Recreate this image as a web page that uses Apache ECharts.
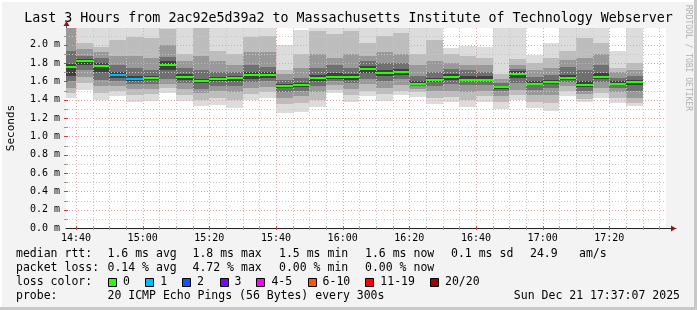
<!DOCTYPE html>
<html><head><meta charset="utf-8">
<script src="https://cdn.jsdelivr.net/npm/echarts@6/dist/echarts.min.js"></script>
<style>html,body{margin:0;padding:0;background:#f3f3f3}#c{width:697px;height:310px}</style>
</head><body><div id="c"></div>
<script>
// ---------------- data ----------------
const times = ['14:40','14:45','14:50','14:55','15:00','15:05','15:10','15:15','15:20','15:25','15:30','15:35','15:40','15:45','15:50','15:55','16:00','16:05','16:10','16:15','16:20','16:25','16:30','16:35','16:40','16:45','16:50','16:55','17:00','17:05','17:10','17:15','17:20','17:25','17:30'];
const median = [1.752,1.818,1.763,1.665,1.625,1.636,1.778,1.645,1.600,1.622,1.632,1.665,1.665,1.545,1.556,1.632,1.651,1.643,1.730,1.687,1.698,1.568,1.611,1.643,1.620,1.620,1.534,1.678,1.576,1.589,1.632,1.556,1.645,1.576,1.590];
const loss = [0,0,0,1,1,0,0,0,0,0,0,0,0,0,0,0,0,0,0,0,0,0,0,0,0,0,0,0,0,0,0,0,0,0,0];
// sorted ping ranks (of 20) per step, seconds x 1e-3
const p1  = [1.42,1.51,1.40,1.44,1.38,1.39,1.47,1.39,1.33,1.34,1.31,1.40,1.42,1.26,1.27,1.32,1.47,1.38,1.44,1.39,1.45,1.43,1.35,1.37,1.32,1.38,1.30,1.40,1.31,1.28,1.44,1.37,1.42,1.36,1.33];
const p3  = [1.47,1.58,1.47,1.50,1.45,1.46,1.53,1.45,1.40,1.42,1.40,1.46,1.48,1.35,1.36,1.40,1.51,1.45,1.50,1.46,1.50,1.48,1.42,1.43,1.40,1.44,1.38,1.45,1.38,1.36,1.50,1.41,1.47,1.42,1.36];
const p5  = [1.53,1.65,1.55,1.55,1.52,1.52,1.57,1.52,1.47,1.49,1.48,1.53,1.54,1.42,1.44,1.48,1.56,1.52,1.57,1.53,1.56,1.52,1.50,1.50,1.48,1.50,1.44,1.51,1.45,1.45,1.55,1.46,1.53,1.48,1.42];
const p7  = [1.60,1.72,1.62,1.60,1.57,1.57,1.63,1.58,1.52,1.55,1.55,1.59,1.60,1.48,1.50,1.55,1.60,1.58,1.63,1.60,1.63,1.55,1.55,1.57,1.56,1.56,1.49,1.58,1.51,1.53,1.59,1.50,1.59,1.53,1.50];
const p9  = [1.66,1.78,1.70,1.64,1.60,1.61,1.72,1.62,1.58,1.60,1.60,1.63,1.64,1.53,1.54,1.60,1.63,1.62,1.69,1.66,1.67,1.56,1.59,1.62,1.60,1.60,1.52,1.64,1.56,1.57,1.62,1.54,1.63,1.56,1.56];
const p12 = [1.79,1.84,1.80,1.70,1.66,1.66,1.82,1.68,1.63,1.65,1.66,1.70,1.70,1.57,1.58,1.67,1.69,1.68,1.77,1.72,1.73,1.60,1.64,1.68,1.66,1.66,1.55,1.71,1.60,1.61,1.67,1.60,1.69,1.60,1.62];
const p14 = [1.93,1.88,1.86,1.78,1.75,1.72,1.87,1.75,1.72,1.70,1.70,1.78,1.76,1.62,1.64,1.75,1.78,1.75,1.82,1.80,1.80,1.66,1.70,1.73,1.72,1.70,1.58,1.74,1.65,1.67,1.76,1.72,1.78,1.64,1.66];
const p16 = [2.30,1.95,1.92,1.88,1.88,1.85,2.00,1.82,1.88,1.82,1.78,1.92,1.92,1.68,1.75,1.90,1.85,1.90,1.88,1.92,1.90,1.78,1.82,1.80,1.78,1.78,1.63,1.78,1.72,1.75,1.83,1.85,1.90,1.70,1.72];
const p18 = [2.35,2.02,1.98,2.05,2.08,2.07,2.17,1.90,2.25,1.93,1.90,2.08,2.10,1.72,1.90,2.15,2.12,2.15,2.02,2.10,2.13,1.90,2.05,1.90,1.88,1.86,1.68,1.84,1.80,1.85,1.93,2.07,2.02,1.75,1.80];
const p20 = [2.40,2.30,2.30,2.30,2.30,2.30,2.30,2.30,2.35,2.30,2.30,2.30,2.30,2.00,2.16,2.30,2.30,2.30,2.30,2.30,2.30,2.30,2.30,1.96,1.99,1.98,2.30,2.30,1.89,2.02,2.30,2.30,2.30,1.93,2.30];
const xTickLabels = ['14:40','15:00','15:20','15:40','16:00','16:20','16:40','17:00','17:20'];
const yTickLabels = [0.0,0.2,0.4,0.6,0.8,1.0,1.2,1.4,1.6,1.8,2.0];
const title = 'Last 3 Hours from 2ac92e5d39a2 to Massachusetts Institute of Technology Webserver';
const statsRtt  = ['median rtt:','1.6 ms avg','1.8 ms max','1.5 ms min','1.6 ms now','0.1 ms sd','24.9','am/s'];
const statsLoss = ['packet loss:','0.14 % avg','4.72 % max','0.00 % min','0.00 % now'];
const lossLegendLabels = ['0','1','2','3','4-5','6-10','11-19','20/20'];
const lossLegendColors = ['#26ff00','#00b8ff','#0059ff','#7e00ff','#ff00ff','#ff5500','#ff0000','#a10000'];
const probeText = '20 ICMP Echo Pings (56 Bytes) every 300s';
const dateText = 'Sun Dec 21 17:37:07 2025';

// ---------------- layout ----------------
const toMin = s => { const [h, m] = s.split(':').map(Number); return h * 60 + m - 840; };
const fromMin = v => { const t = Math.round(v) + 840; return String(Math.floor(t / 60)).padStart(2, '0') + ':' + String(t % 60).padStart(2, '0'); };
const T = times.map(toMin);
const X0 = 37, XEND = 217, XAX = 220, YTOP = 2.182, YAX = 2.2586, STEP = 5;
const MONO = '"DejaVu Sans Mono", monospace';
const bands = [[p1, p20, '#dcdcdc'], [p3, p18, '#bdbdbd'], [p5, p16, '#999999'], [p7, p14, '#707070'], [p9, p12, '#404040']];
const lossColor = l => l === 0 ? lossLegendColors[0] : l === 1 ? lossLegendColors[1] : l === 2 ? lossLegendColors[2] : l === 3 ? lossLegendColors[3] : l <= 5 ? lossLegendColors[4] : l <= 10 ? lossLegendColors[5] : l <= 19 ? lossLegendColors[6] : lossLegendColors[7];

function plotRect(api) {
  const a = api.coord([X0, YTOP]), b = api.coord([XEND, 0]);
  return { x: a[0], y: a[1], width: b[0] - a[0], height: b[1] - a[1] };
}
const gridItems = [];
for (let m = 40; m <= 215; m += 5) gridItems.push([m, 0, (m % 20 === 0) ? 1 : 0]);
for (let k = 1; k <= 21; k++) gridItems.push([X0, k / 10, (k % 2 === 0) ? 3 : 2]);

const chart = echarts.init(document.getElementById('c'), null, { renderer: 'canvas' });
const graphics = [];
graphics.push({ type: 'rect', shape: { x: 0, y: 0, width: 697, height: 2 }, style: { fill: '#ffffff' }, silent: true });
graphics.push({ type: 'rect', shape: { x: 0, y: 0, width: 2, height: 310 }, style: { fill: '#ffffff' }, silent: true });
graphics.push({ type: 'rect', shape: { x: 694, y: 0, width: 3, height: 310 }, style: { fill: '#c8c8c8' }, silent: true });
graphics.push({ type: 'rect', shape: { x: 0, y: 307, width: 697, height: 3 }, style: { fill: '#c8c8c8' }, silent: true });
graphics.push({ type: 'text', x: 348.5, y: 19, style: { text: title, font: '13.3px ' + MONO, fill: '#000', align: 'center', verticalAlign: 'middle', textAlign: 'center', textVerticalAlign: 'middle' } });
graphics.push({ type: 'text', x: 11, y: 128, rotation: Math.PI / 2, style: { text: 'Seconds', font: '11px ' + MONO, fill: '#000', align: 'center', verticalAlign: 'middle', textAlign: 'center', textVerticalAlign: 'middle' } });
graphics.push({ type: 'text', x: 688, y: 5, rotation: -Math.PI / 2, style: { text: 'RRDTOOL / TOBI OETIKER', font: '8px ' + MONO, fill: '#b0b0b0', align: 'left', verticalAlign: 'middle', textAlign: 'left', textVerticalAlign: 'middle' } });
const LF = '11.5px ' + MONO;
const txt = (s, x, y) => ({ type: 'text', x: x, y: y, style: { text: s, font: LF, fill: '#000', align: 'left', verticalAlign: 'middle', textAlign: 'left', textVerticalAlign: 'middle' } });
const rttX = [16, 107.5, 192.5, 279, 365, 451, 530, 579];
statsRtt.forEach((s, i) => graphics.push(txt(s, rttX[i], 254)));
const lossX = [16, 107.5, 192.5, 279, 365];
statsLoss.forEach((s, i) => graphics.push(txt(s, lossX[i], 268)));
graphics.push(txt('loss color:', 16, 282));
const boxX = [108, 145.3, 182, 219.6, 256.4, 307.6, 365.3, 430];
lossLegendLabels.forEach((s, i) => {
  graphics.push({ type: 'rect', shape: { x: Math.round(boxX[i]) + 0.5, y: 278.5, width: 8, height: 8 }, style: { fill: lossLegendColors[i], stroke: '#000', lineWidth: 1 } });
  graphics.push(txt(s, boxX[i] + 15, 282));
});
graphics.push(txt('probe:', 16, 296));
graphics.push(txt(probeText, 107.5, 296));
graphics.push({ type: 'text', x: 680, y: 296, style: { text: dateText, font: LF, fill: '#000', align: 'right', verticalAlign: 'middle', textAlign: 'right', textVerticalAlign: 'middle' } });

const option = {
  animation: false,
  backgroundColor: '#f3f3f3',
  grid: { left: 66, right: 21, top: 21, bottom: 82, containLabel: false },
  xAxis: {
    type: 'value', min: X0, max: XAX,
    axisLine: { show: true, onZero: false, lineStyle: { color: '#222', width: 1 } },
    axisTick: { show: false },
    splitLine: { show: false },
    axisLabel: { customValues: xTickLabels.map(toMin), formatter: v => fromMin(v), margin: 5, color: '#000', fontFamily: MONO, fontSize: 10 }
  },
  yAxis: {
    type: 'value', min: 0, max: YAX,
    axisLine: { show: true, lineStyle: { color: '#555', width: 1 } },
    axisTick: { show: false },
    splitLine: { show: false },
    axisLabel: { customValues: yTickLabels, formatter: v => v.toFixed(1) + ' m', margin: 6, color: '#000', fontFamily: MONO, fontSize: 10 }
  },
  graphic: graphics,
  series: [
    { // plot background
      type: 'custom', z: 1, silent: true, data: [[X0, 0]],
      renderItem: (params, api) => ({ type: 'rect', shape: plotRect(api), style: { fill: '#ffffff' } })
    },
    { // smoke
      type: 'custom', z: 2, silent: true, data: T.map((t, i) => [t, i]),
      renderItem: (params, api) => {
        const t = api.value(0), i = api.value(1);
        const pr = plotRect(api);
        const xa = Math.round(api.coord([t - STEP, 0])[0]), xb = Math.round(api.coord([t, 0])[0]);
        const children = [];
        bands.forEach(([lo, hi, col]) => {
          const ya = Math.round(api.coord([t, hi[i]])[1]), yb = Math.round(api.coord([t, lo[i]])[1]);
          const r = echarts.graphic.clipRectByRect({ x: xa, y: ya, width: xb - xa, height: yb - ya }, pr);
          if (r) children.push({ type: 'rect', shape: r, style: { fill: col } });
        });
        return { type: 'group', children };
      }
    },
    { // grid
      type: 'custom', z: 3, silent: true, data: gridItems,
      renderItem: (params, api) => {
        const pr = plotRect(api);
        const kind = api.value(2);
        const major = kind === 1 || kind === 3;
        const col = major ? '#e9a3a3' : '#c8c8c8';
        const children = [];
        if (kind <= 1) {
          const x = Math.round(api.coord([api.value(0), 0])[0]) + 0.5;
          children.push({ type: 'line', shape: { x1: x, y1: pr.y, x2: x, y2: pr.y + pr.height }, style: { stroke: col, lineWidth: 1, lineDash: [1, 2] } });
          children.push({ type: 'line', shape: { x1: x, y1: pr.y + pr.height - 2, x2: x, y2: pr.y + pr.height + 2 }, style: { stroke: major ? '#d04040' : '#999', lineWidth: 1 } });
        } else {
          const y = Math.round(api.coord([X0, api.value(1)])[1]) + 0.5;
          if (y < pr.y) return null;
          children.push({ type: 'line', shape: { x1: pr.x, y1: y, x2: pr.x + pr.width, y2: y }, style: { stroke: col, lineWidth: 1, lineDash: [1, 2] } });
          children.push({ type: 'line', shape: { x1: pr.x - 2, y1: y, x2: pr.x + 2, y2: y }, style: { stroke: major ? '#d04040' : '#999', lineWidth: 1 } });
        }
        return { type: 'group', children };
      }
    },
    { // medians
      type: 'custom', z: 4, silent: true, data: T.map((t, i) => [t, median[i], loss[i]]),
      renderItem: (params, api) => {
        const t = api.value(0);
        const pr = plotRect(api);
        const xa = Math.round(api.coord([t - STEP, 0])[0]), xb = Math.round(api.coord([t, 0])[0]);
        const y = Math.round(api.coord([t, api.value(1)])[1]);
        const r = echarts.graphic.clipRectByRect({ x: xa, y: y - 1, width: xb - xa, height: 2 }, pr);
        if (!r) return null;
        return { type: 'rect', shape: r, style: { fill: lossColor(api.value(2)) } };
      }
    },
    { // axis arrows
      type: 'custom', z: 5, silent: true, data: [[X0, 0]],
      renderItem: (params, api) => {
        const a = api.coord([XAX, 0]), b = api.coord([X0, YAX]);
        const ax = Math.round(a[0]), ay = Math.round(a[1]) + 0.5;
        const bx = Math.round(b[0]) + 0.5, by = Math.round(b[1]);
        return { type: 'group', children: [
          { type: 'polygon', shape: { points: [[ax - 5, ay - 3], [ax, ay], [ax - 5, ay + 3]] }, style: { fill: '#a01010' } },
          { type: 'polygon', shape: { points: [[bx - 3, by + 5], [bx, by], [bx + 3, by + 5]] }, style: { fill: '#a01010' } }
        ] };
      }
    }
  ]
};
chart.setOption(option);
</script>
</body></html>
